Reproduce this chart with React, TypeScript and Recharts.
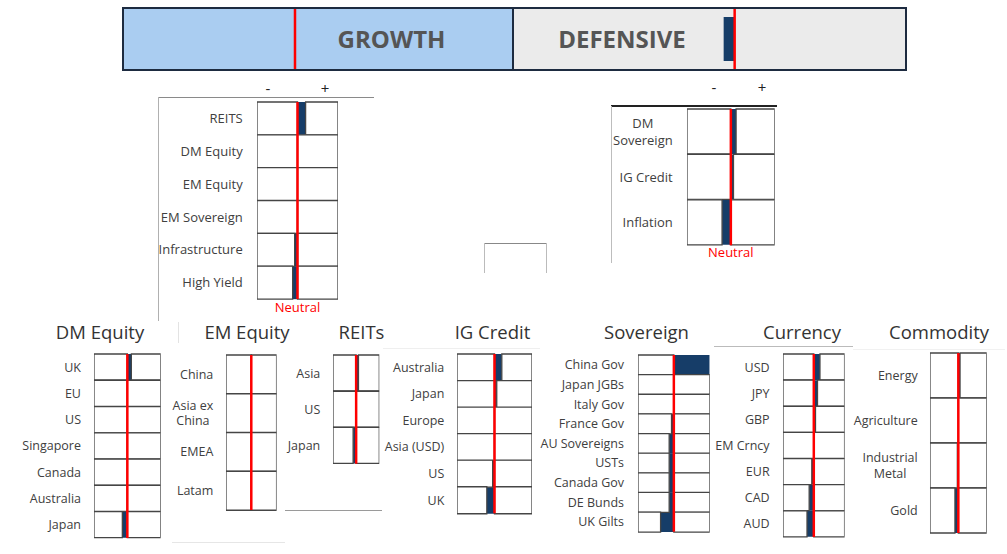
import React from 'react';
import { BarChart, Bar, XAxis, YAxis, ReferenceLine } from 'recharts';

const NAVY = '#163d68';
const RED = '#ff0000';
const CELL_STROKE = '#454545';
const LABEL = '#404040';
const FONT = '"Open Sans", "Noto Sans", sans-serif';

// ---------- data ----------
const bannerCategories = ['GROWTH', 'DEFENSIVE'];
const bannerValues = [0, -0.28];

const growthLabels = ['REITS', 'DM Equity', 'EM Equity', 'EM Sovereign', 'Infrastructure', 'High Yield'];
const growthValues = [2.0, 0, 0, 0, -0.7, -1.2];

const defensiveLabels = ['DM\nSovereign', 'IG Credit', 'Inflation'];
const defensiveValues = [1.2, 0.6, -2.0];

const dmEquityLabels = ['UK', 'EU', 'US', 'Singapore', 'Canada', 'Australia', 'Japan'];
const dmEquityValues = [1.2, 0, 0, 0, 0, 0, -1.5];

const emEquityLabels = ['China', 'Asia ex\nChina', 'EMEA', 'Latam'];
const emEquityValues = [0, 0, 0, 0];

const reitsLabels = ['Asia', 'US', 'Japan'];
const reitsValues = [1.0, 0, -1.3];

const igCreditLabels = ['Australia', 'Japan', 'Europe', 'Asia (USD)', 'US', 'UK'];
const igCreditValues = [1.95, 0.6, 0, 0, -0.5, -2.05];

const sovereignLabels = ['China Gov', 'Japan JGBs', 'Italy Gov', 'France Gov', 'AU Sovereigns', 'USTs', 'Canada Gov', 'DE Bunds', 'UK Gilts'];
const sovereignValues = [10, 0, 0, -0.65, -1.3, -1.3, -1.3, -1.3, -3.7];

const currencyLabels = ['USD', 'JPY', 'GBP', 'EM Crncy', 'EUR', 'CAD', 'AUD'];
const currencyValues = [2.0, 1.2, 0.55, 0, -0.65, -1.5, -2.2];

const commodityLabels = ['Energy', 'Agriculture', 'Industrial\nMetal', 'Gold'];
const commodityValues = [0.6, 0, -0.35, -1.2];

const panelTitles = ['DM Equity', 'EM Equity', 'REITs', 'IG Credit', 'Sovereign', 'Currency', 'Commodity'];
const neutralText = 'Neutral';

// ---------- helpers ----------
let measureCtx: CanvasRenderingContext2D | null = null;
function textWidth(s: string, fs: number): number {
  if (!measureCtx && typeof document !== 'undefined') {
    measureCtx = document.createElement('canvas').getContext('2d');
  }
  if (measureCtx) {
    measureCtx.font = `${fs}px "Open Sans"`;
    return measureCtx.measureText(s).width;
  }
  return s.length * fs * 0.55;
}

function makeTick(fs: number) {
  return (props: any) => {
    const { x, y, payload } = props;
    const lines = String(payload.value).split('\n');
    if (lines.length === 1) {
      return (
        <text x={x} y={y + fs * 0.36} textAnchor="end" fontSize={fs} fill={LABEL} fontFamily={FONT}>
          {lines[0]}
        </text>
      );
    }
    const maxW = Math.max(...lines.map((l) => textWidth(l, fs)));
    const cx = x - maxW / 2;
    const lh = fs * 1.25;
    return (
      <text textAnchor="middle" fontSize={fs} fill={LABEL} fontFamily={FONT}>
        {lines.map((l, i) => (
          <tspan key={i} x={cx} y={y + (i - (lines.length - 1) / 2) * lh + fs * 0.36}>
            {l}
          </tspan>
        ))}
      </text>
    );
  };
}

type PanelProps = {
  gx: number; gy: number; gw: number; gh: number;
  labels: string[]; values: number[];
  labelRight: number; axisW: number; fs: number;
  neutral?: boolean; neutralOffset?: number;
};

function Panel({ gx, gy, gw, gh, labels, values, labelRight, axisW, fs, neutral, neutralOffset = 4 }: PanelProps) {
  const max = 10;
  const data = labels.map((name, i) => {
    const v = values[i];
    return { name, v, lw: -(max + Math.min(v, 0)), rw: max - Math.max(v, 0) };
  });
  const mt = 4;
  const mr = 4;
  const mb = neutral ? 24 : 4;
  return (
    <div style={{ position: 'absolute', left: gx - axisW, top: gy - mt }}>
      <BarChart
        width={axisW + gw + mr}
        height={gh + mt + mb}
        data={data}
        layout="vertical"
        stackOffset="sign"
        barCategoryGap={0}
        margin={{ top: mt, right: mr, bottom: mb, left: 0 }}
      >
        <XAxis type="number" domain={[-max, max]} hide allowDataOverflow />
        <YAxis
          type="category"
          dataKey="name"
          width={axisW}
          axisLine={false}
          tickLine={false}
          tickSize={0}
          tickMargin={gx - labelRight}
          interval={0}
          tick={makeTick(fs)}
        />
        <Bar dataKey="v" stackId="s" fill={NAVY} isAnimationActive={false} />
        <Bar dataKey="lw" stackId="s" fill="#ffffff" stroke={CELL_STROKE} strokeWidth={1.3} isAnimationActive={false} />
        <Bar dataKey="rw" stackId="s" fill="#ffffff" stroke={CELL_STROKE} strokeWidth={1.3} isAnimationActive={false} />
        <ReferenceLine
          x={0}
          stroke={RED}
          strokeWidth={2.5}
          label={neutral ? { value: neutralText, position: 'bottom', fill: RED, fontSize: 13, offset: neutralOffset, fontFamily: FONT } : undefined}
        />
      </BarChart>
    </div>
  );
}

function BannerHalf({ left, width, domain, name, value }: { left: number; width: number; domain: [number, number]; name: string; value: number }) {
  const data = [{ name, v: value }];
  return (
    <div style={{ position: 'absolute', left, top: 7 }}>
      <BarChart width={width} height={64} data={data} layout="vertical" barCategoryGap={0} margin={{ top: 2, right: 0, bottom: 2, left: 0 }}>
        <XAxis type="number" domain={domain} hide allowDataOverflow />
        <YAxis type="category" dataKey="name" hide />
        <Bar dataKey="v" fill={NAVY} barSize={44} isAnimationActive={false} />
        <ReferenceLine x={0} stroke={RED} strokeWidth={2.5} />
      </BarChart>
    </div>
  );
}

function HLine({ x1, x2, y, color, w = 1 }: { x1: number; x2: number; y: number; color: string; w?: number }) {
  return <div style={{ position: 'absolute', left: x1, top: y - w / 2, width: x2 - x1, height: w, background: color }} />;
}
function VLine({ x, y1, y2, color, w = 1 }: { x: number; y1: number; y2: number; color: string; w?: number }) {
  return <div style={{ position: 'absolute', left: x - w / 2, top: y1, width: w, height: y2 - y1, background: color }} />;
}

function CText({ x, y, text, size, color, weight = 400 }: { x: number; y: number; text: string; size: number; color: string; weight?: number }) {
  return (
    <div
      style={{
        position: 'absolute', left: x, top: y, transform: 'translate(-50%, -50%)',
        fontSize: size, lineHeight: 1, color, fontWeight: weight, whiteSpace: 'nowrap', fontFamily: FONT,
      }}
    >
      {text}
    </div>
  );
}

const titleX = [100, 247, 361.5, 492.5, 646.5, 802, 939];

export default function App() {
  return (
    <div style={{ position: 'absolute', left: 0, top: 0, width: 1007, height: 554, background: '#fff', fontFamily: FONT, overflow: 'hidden' }}>
      {/* Banner background */}
      <div style={{ position: 'absolute', left: 123, top: 7, width: 390, height: 64, background: '#aacdf1' }} />
      <div style={{ position: 'absolute', left: 513, top: 7, width: 393, height: 64, background: '#ebebeb' }} />
      <CText x={391.5} y={39} text={bannerCategories[0]} size={24} color="#555555" weight={700} />
      <CText x={622} y={39} text={bannerCategories[1]} size={24} color="#555555" weight={700} />
      <BannerHalf left={123} width={390} domain={[-4.41, 5.59]} name={bannerCategories[0]} value={bannerValues[0]} />
      <BannerHalf left={513} width={393} domain={[-5.64, 4.36]} name={bannerCategories[1]} value={bannerValues[1]} />
      <div style={{ position: 'absolute', left: 122, top: 7, width: 785, height: 64, border: '2px solid #1d2b40', boxSizing: 'border-box' }} />
      <VLine x={513} y1={7} y2={71} color="#1d2b40" w={2} />

      {/* Growth block */}
      <HLine x1={158} x2={374} y={97} color="#8a8a8a" />
      <VLine x={158} y1={97} y2={321} color="#b0b0b0" />
      <CText x={268} y={88} text="-" size={15} color="#222" />
      <CText x={325} y={88} text="+" size={15} color="#222" />
      <Panel gx={257.3} gy={102.3} gw={81} gh={197} labels={growthLabels} values={growthValues} labelRight={243} axisW={100} fs={13} neutral neutralOffset={3.5} />

      {/* Defensive block */}
      <HLine x1={611} x2={777} y={106} color="#222" w={1.3} />
      <VLine x={611} y1={106} y2={263} color="#bdbdbd" />
      <CText x={714} y={87} text="-" size={15} color="#222" />
      <CText x={762} y={87} text="+" size={15} color="#222" />
      <Panel gx={687.3} gy={109} gw={87.7} gh={136.3} labels={defensiveLabels} values={defensiveValues} labelRight={673} axisW={90} fs={13} neutral neutralOffset={2} />

      {/* small empty box */}
      <HLine x1={484} x2={547} y={243.5} color="#888" />
      <VLine x={484} y1={243} y2={273} color="#bbb" />
      <VLine x={546.5} y1={243} y2={273} color="#bbb" />

      {/* decorative lines near titles */}
      <VLine x={178.3} y1={322} y2={343} color="#e3e3e3" />
      <HLine x1={383} x2={540} y={348} color="#efefef" />
      <HLine x1={714} x2={853} y={346.5} color="#bbbbbb" />
      <HLine x1={853} x2={1005} y={349.5} color="#f1f1f1" />
      <HLine x1={285} x2={382} y={510.5} color="#9a9a9a" />
      <HLine x1={172} x2={285} y={542.3} color="#e6e6e6" />

      {/* titles */}
      {panelTitles.map((t, i) => (
        <CText key={t} x={titleX[i]} y={332} text={t} size={18.5} color="#333333" />
      ))}

      <Panel gx={94} gy={354.3} gw={66.7} gh={184} labels={dmEquityLabels} values={dmEquityValues} labelRight={81} axisW={90} fs={12.5} />
      <Panel gx={225.7} gy={355} gw={50.6} gh={155} labels={emEquityLabels} values={emEquityValues} labelRight={213} axisW={90} fs={12.5} />
      <Panel gx={332.7} gy={355} gw={46.3} gh={108.7} labels={reitsLabels} values={reitsValues} labelRight={320} axisW={60} fs={12.5} />
      <Panel gx={456.7} gy={354} gw={75} gh={159.3} labels={igCreditLabels} values={igCreditValues} labelRight={444} axisW={80} fs={12.5} />
      <Panel gx={638.3} gy={355} gw={71.7} gh={176.7} labels={sovereignLabels} values={sovereignValues} labelRight={624.3} axisW={104} fs={12.5} />
      <Panel gx={782.7} gy={353.7} gw={61.6} gh={183} labels={currencyLabels} values={currencyValues} labelRight={769.3} axisW={70} fs={12.5} />
      <Panel gx={930} gy={353.3} gw={56.7} gh={180} labels={commodityLabels} values={commodityValues} labelRight={917.7} axisW={85} fs={12.5} />
    </div>
  );
}
